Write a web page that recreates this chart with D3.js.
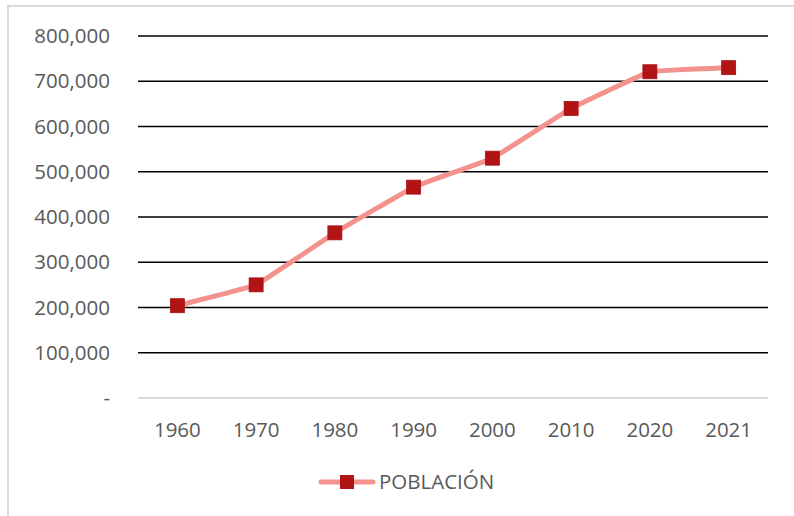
<!DOCTYPE html>
<html><head><meta charset="utf-8">
<script src="https://cdn.jsdelivr.net/npm/d3@7"></script>
<style>html,body{margin:0;padding:0;background:#fff;} svg{display:block;}</style>
</head><body>
<script>
const categories = ["1960","1970","1980","1990","2000","2010","2020","2021"];
const poblacion = [204000, 250000, 365000, 466000, 530000, 640000, 721000, 730000];
const yTicks = [0,100000,200000,300000,400000,500000,600000,700000,800000];
const seriesName = "POBLACIÓN";

const W = 794, H = 516;
const svg = d3.select("body").append("svg").attr("width", W).attr("height", H);
svg.append("rect").attr("x",0).attr("y",0).attr("width",W).attr("height",H).attr("fill","#fff");
svg.append("rect").attr("x",8).attr("y",6).attr("width",W+20).attr("height",H+20)
  .attr("fill","none").attr("stroke","#D9D9D9").attr("stroke-width",2);

const x = d3.scalePoint().domain(categories).range([138,768]).padding(0.5);
const y = d3.scaleLinear().domain([0,800000]).range([398,36]);
const font = "'Open Sans', 'Noto Sans', sans-serif";
const fmt = d => d === 0 ? "-" : d3.format(",")(d);

// gridlines
svg.append("g").selectAll("line").data(yTicks).join("line")
  .attr("x1",138).attr("x2",768)
  .attr("y1",d=>y(d)).attr("y2",d=>y(d))
  .attr("stroke",d=>d===0?"#D9D9D9":"#000").attr("stroke-width",d=>d===0?2:1.5);

// y labels
svg.append("g").selectAll("text").data(yTicks).join("text")
  .attr("x",110).attr("y",d=>y(d)).attr("dy","0.35em")
  .attr("text-anchor","end").attr("font-family",font).attr("font-size",20.5)
  .attr("fill","#595959").text(fmt);

// x labels
svg.append("g").selectAll("text").data(categories).join("text")
  .attr("x",d=>x(d)).attr("y",437)
  .attr("text-anchor","middle").attr("font-family",font).attr("font-size",20.5)
  .attr("fill","#595959").text(d=>d);

const pts = categories.map((c,i)=>({c, v: poblacion[i]}));
const line = d3.line().x(d=>x(d.c)).y(d=>y(d.v)).curve(d3.curveCardinal.tension(0.8));
svg.append("path").datum(pts).attr("d",line).attr("fill","none")
  .attr("stroke","#F4928E").attr("stroke-width",5).attr("stroke-linecap","round").attr("stroke-linejoin","round");

const ms = 14;
svg.append("g").selectAll("rect").data(pts).join("rect")
  .attr("x",d=>x(d.c)-ms/2).attr("y",d=>y(d.v)-ms/2).attr("width",ms).attr("height",ms)
  .attr("fill","#B21416").attr("stroke","#A81215").attr("stroke-width",0.8);

// legend
const lg = svg.append("g");
lg.append("line").attr("x1",321).attr("x2",373).attr("y1",482).attr("y2",482)
  .attr("stroke","#F4928E").attr("stroke-width",5).attr("stroke-linecap","round");
lg.append("rect").attr("x",347-ms/2).attr("y",482-ms/2).attr("width",ms).attr("height",ms)
  .attr("fill","#B21416");
lg.append("text").attr("x",379).attr("y",482).attr("dy","0.35em")
  .attr("font-family",font).attr("font-size",20.5).attr("fill","#595959").text(seriesName);
</script>
</body></html>
